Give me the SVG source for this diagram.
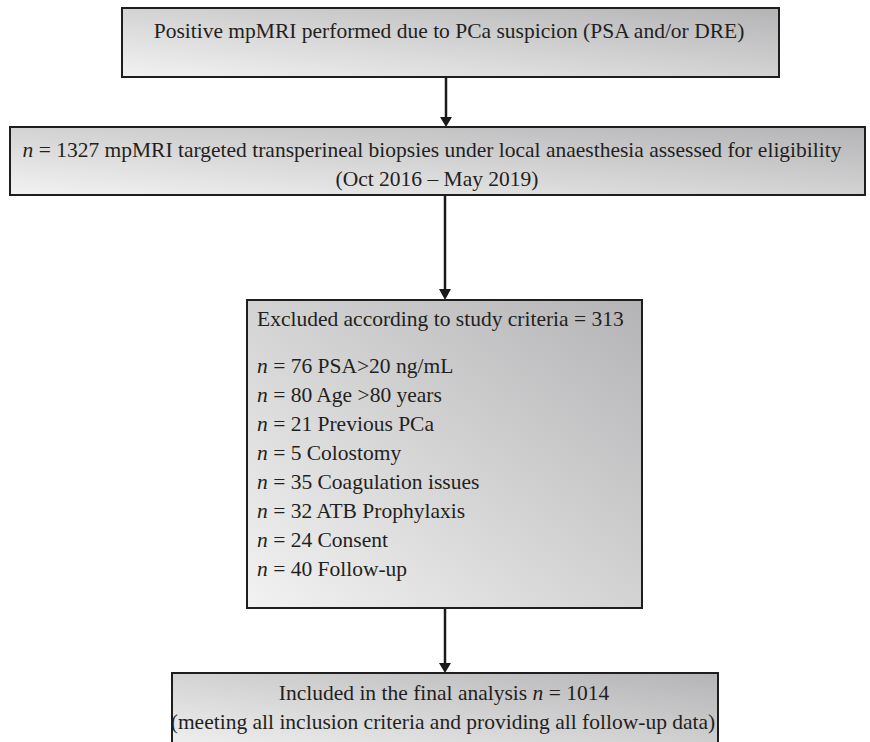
<svg xmlns="http://www.w3.org/2000/svg" width="870" height="742" viewBox="0 0 870 742">
<defs>
<linearGradient id="g" x1="0" y1="1" x2="1" y2="0">
<stop offset="0" stop-color="#f2f2f2"/>
<stop offset="1" stop-color="#b4b4b6"/>
</linearGradient>
<style>
.box{fill:url(#g);stroke:#1e1e1e;stroke-width:2}
.t{font-family:"Liberation Serif","Times New Roman",serif;font-size:21.5px;fill:#231f20}
.c{text-anchor:middle}
.con{stroke:#1a1a1a;stroke-width:2.5;fill:none}
</style>
</defs>
<g id="connectors">
<line class="con" x1="446" y1="77" x2="446" y2="118"/>
<path d="M440,117 L452,117 L446,127 Z" fill="#1a1a1a"/>
<line class="con" x1="445" y1="195" x2="445" y2="290"/>
<path d="M439,289 L451,289 L445,300 Z" fill="#1a1a1a"/>
<line class="con" x1="445" y1="608" x2="445" y2="664"/>
<path d="M439,663 L451,663 L445,673 Z" fill="#1a1a1a"/>
</g>
<g id="n1">
<rect class="box" x="122" y="8" width="657" height="69"/>
<text class="t c" x="449" y="38">Positive mpMRI performed due to PCa suspicion (PSA and/or DRE)</text>
</g>
<g id="n2">
<rect class="box" x="10" y="127" width="855" height="68"/>
<text class="t c" x="432" y="157"><tspan font-style="italic">n</tspan> = 1327 mpMRI targeted transperineal biopsies under local anaesthesia assessed for eligibility</text>
<text class="t c" x="437" y="186">(Oct 2016 – May 2019)</text>
</g>
<g id="n3">
<rect class="box" x="247" y="300" width="395" height="308"/>
<text class="t" x="257" y="326">Excluded according to study criteria = 313</text>
<text class="t" x="257" y="373"><tspan font-style="italic">n</tspan> = 76 PSA&gt;20 ng/mL</text>
<text class="t" x="257" y="402"><tspan font-style="italic">n</tspan> = 80 Age &gt;80 years</text>
<text class="t" x="257" y="431"><tspan font-style="italic">n</tspan> = 21 Previous PCa</text>
<text class="t" x="257" y="460"><tspan font-style="italic">n</tspan> = 5 Colostomy</text>
<text class="t" x="257" y="489"><tspan font-style="italic">n</tspan> = 35 Coagulation issues</text>
<text class="t" x="257" y="518"><tspan font-style="italic">n</tspan> = 32 ATB Prophylaxis</text>
<text class="t" x="257" y="547"><tspan font-style="italic">n</tspan> = 24 Consent</text>
<text class="t" x="257" y="576"><tspan font-style="italic">n</tspan> = 40 Follow-up</text>
</g>
<g id="n4">
<rect class="box" x="172" y="673" width="546" height="80"/>
<text class="t c" x="444" y="700">Included in the final analysis <tspan font-style="italic">n</tspan> = 1014</text>
<text class="t c" x="443" y="729">(meeting all inclusion criteria and providing all follow-up data)</text>
</g>
</svg>
